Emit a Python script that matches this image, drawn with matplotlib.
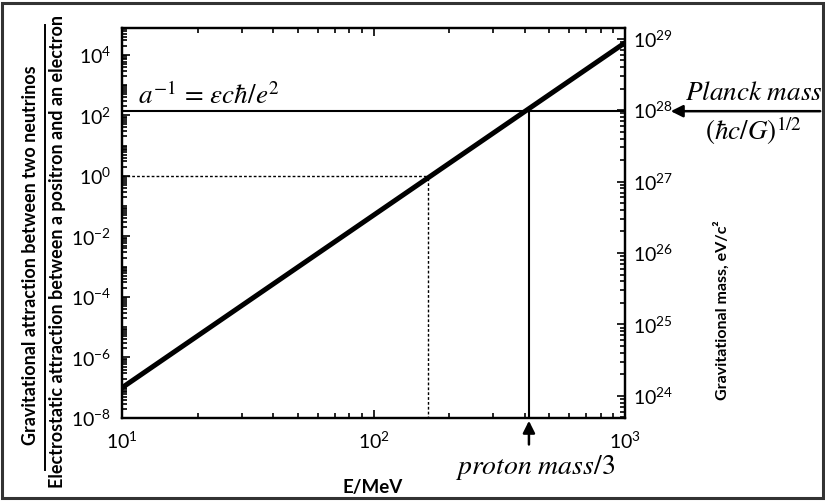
import numpy as np
import matplotlib
matplotlib.use('Agg')
import matplotlib.pyplot as plt
from matplotlib.ticker import LogLocator, NullFormatter
from matplotlib.lines import Line2D
from matplotlib.patches import Rectangle

# energy range (MeV) and the ratio line end points
energy = [10, 1000]
ratio = [1.0e-7, 2.5e4]

a_inv = 137          # fine structure constant inverse
e_unity = 165        # energy where ratio = 1
proton_third = 415   # proton mass / 3 position

left_ticks = [1e-8, 1e-6, 1e-4, 1e-2, 1e0, 1e2, 1e4]
right_ticks = [1e24, 1e25, 1e26, 1e27, 1e28, 1e29]
x_ticks = [10, 100, 1000]

plt.rcParams['font.family'] = ['Lato', 'DejaVu Sans']

fig = plt.figure(figsize=(8.25, 5.01), dpi=100)
ax = fig.add_axes([122/825, 1-418/501, (625-122)/825, (418-28)/501])

ax.set_xscale('log')
ax.set_yscale('log')
ax.set_xlim(10, 1000)
ax.set_ylim(10**-7.9, 10**4.885)

ax.plot(energy, ratio, color='k', lw=3.6, solid_capstyle='round', zorder=5)

# alpha^-1 line across the plot
ax.axhline(a_inv, color='k', lw=1.5)
ax.plot([proton_third, proton_third], [1e-9, a_inv], color='k', lw=1.5)
# dotted guide at ratio = 1
ax.plot([10, e_unity], [1, 1], color='k', lw=1.0, ls=(0, (2, 1.5)))
ax.plot([e_unity, e_unity], [1e-9, 1], color='k', lw=1.0, ls=(0, (2, 1.5)))

ax.set_xticks(x_ticks)
ax.set_yticks(left_ticks)
ax.xaxis.set_minor_locator(LogLocator(base=10, subs=np.arange(2, 10)))
ax.yaxis.set_minor_locator(LogLocator(base=10, subs=np.arange(1, 10), numticks=40))
ax.xaxis.set_minor_formatter(NullFormatter())
ax.yaxis.set_minor_formatter(NullFormatter())
ax.tick_params(which='both', direction='in', top=True, labelsize=14, width=1.2)
ax.tick_params(which='major', length=6)
ax.tick_params(which='minor', length=3.5)
ax.tick_params(axis='x', which='major', pad=9)
ax.tick_params(axis='y', which='major', pad=8)
for s in ax.spines.values():
    s.set_linewidth(1.6)

ax2 = ax.twinx()
ax2.set_yscale('log')
ax2.set_ylim(10**23.69, 10**29.15)
ax2.set_yticks(right_ticks)
ax2.yaxis.set_minor_locator(LogLocator(base=10, subs=np.arange(2, 10), numticks=40))
ax2.yaxis.set_minor_formatter(NullFormatter())
ax2.tick_params(which='both', direction='in', labelsize=14, width=1.2, pad=6)
ax2.tick_params(which='major', length=6)
ax2.tick_params(which='minor', length=3.5)
for s in ax2.spines.values():
    s.set_linewidth(1.6)

ax.text(11.6, a_inv * 1.2, r'$a^{-1}\,=\,\varepsilon c\hbar/e^2$', fontsize=19.5,
        math_fontfamily='stix', ha='left', va='bottom')

# Planck mass arrow coming in from the right
ax.annotate('', xy=(668/825, a_inv), xytext=(823/825, a_inv),
            xycoords=('figure fraction', 'data'), textcoords=('figure fraction', 'data'),
            arrowprops=dict(arrowstyle='-|>', color='k', lw=1.8, mutation_scale=18),
            annotation_clip=False)
fig.text(754/825, 1-92/501, r'$Planck\ mass$', fontsize=19.5, math_fontfamily='stix',
         ha='center', va='center')
fig.text(754/825, 1-131/501, r'$(\hbar c/G)^{1/2}$', fontsize=19.5, math_fontfamily='stix',
         ha='center', va='center')

# proton mass arrow under the x axis
ax.annotate('', xy=(proton_third, 0), xytext=(proton_third, -0.075),
            xycoords=('data', 'axes fraction'), textcoords=('data', 'axes fraction'),
            arrowprops=dict(arrowstyle='-|>', color='k', lw=1.8, mutation_scale=18),
            annotation_clip=False)
fig.text(535/825, 1-468/501, r'$proton\ mass/3$', fontsize=20, math_fontfamily='stix',
         ha='center', va='center')

fig.text(373/825, 1-488/501, 'E/MeV', fontsize=13.5, fontweight='bold',
         ha='center', va='center')
fig.text(722/825, 1-310/501, 'Gravitational mass, eV/c²', fontsize=11.5, fontweight='bold',
         rotation=90, ha='center', va='center')

# left label drawn as a fraction
fig.text(31/825, 1-255/501, 'Gravitational attraction between two neutrinos',
         fontsize=13, fontweight='bold', rotation=90, ha='center', va='center')
fig.text(58/825, 1-251/501, 'Electrostatic attraction between a positron and an electron',
         fontsize=13, fontweight='bold', rotation=90, ha='center', va='center')
fig.add_artist(Line2D([45/825, 45/825], [1-470/501, 1-25/501], color='k', lw=1.4,
                      transform=fig.transFigure))

fig.add_artist(Rectangle((0.003, 0.005), 0.994, 0.99, fill=False, edgecolor='#333333',
                         lw=2.2, transform=fig.transFigure))

fig.savefig('out.png', dpi=100)
